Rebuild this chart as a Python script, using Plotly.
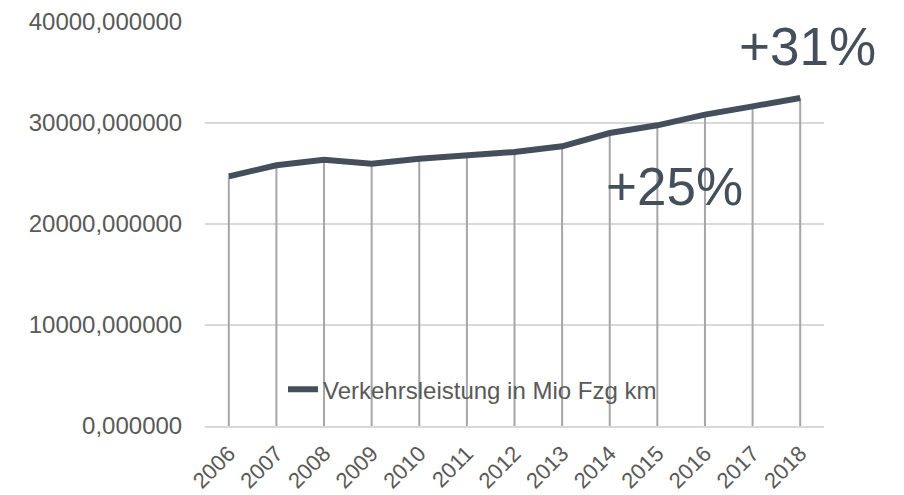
import plotly.graph_objects as go

years = ["2006", "2007", "2008", "2009", "2010", "2011", "2012", "2013",
         "2014", "2015", "2016", "2017", "2018"]
verkehrsleistung = [24720, 25810, 26370, 25970, 26470, 26800, 27130, 27690,
                    29010, 29770, 30830, 31650, 32480]
y_ticks = [0, 10000, 20000, 30000, 40000]
y_tick_labels = ["0,000000", "10000,000000", "20000,000000", "30000,000000", "40000,000000"]
series_name = "Verkehrsleistung in Mio Fzg km"
annotations_text = ["+31%", "+25%"]

FONT = "Liberation Sans, Arial, sans-serif"
TEXT = "#595959"
LINE = "#454F5B"

fig = go.Figure()
# drop lines from each point down to the axis
fig.add_trace(go.Scatter(x=years, y=verkehrsleistung, mode="markers",
                         marker=dict(size=1, opacity=0),
                         error_y=dict(type="data", symmetric=False,
                                      array=[0] * len(verkehrsleistung),
                                      arrayminus=verkehrsleistung,
                                      color="#A6A6A6", thickness=2, width=0),
                         showlegend=False, hoverinfo="skip"))
fig.add_trace(go.Scatter(x=years, y=verkehrsleistung, mode="lines",
                         name=series_name,
                         line=dict(color=LINE, width=6)))

fig.add_annotation(x=0.973, xref="paper", xanchor="center", y=37570, yref="y",
                   yanchor="middle", text=annotations_text[0], showarrow=False,
                   font=dict(family=FONT, size=53, color=LINE))
fig.add_annotation(x=0.7585, xref="paper", xanchor="center", y=23700, yref="y",
                   yanchor="middle", text=annotations_text[1], showarrow=False,
                   font=dict(family=FONT, size=53, color=LINE))

fig.update_layout(
    width=896, height=487,
    margin=dict(l=197, r=80, t=14, b=69),
    paper_bgcolor="white", plot_bgcolor="white",
    font=dict(family=FONT, color=TEXT, size=24),
    showlegend=True,
    legend=dict(x=0.126, y=0.09, xanchor="left", yanchor="middle",
                bgcolor="rgba(0,0,0,0)", font=dict(size=24, color=TEXT)),
    xaxis=dict(type="category", range=[-0.5, 12.5], showgrid=False,
               showline=True, linecolor="#D9D9D9", linewidth=2,
               ticks="outside", ticklen=4, tickcolor="rgba(0,0,0,0)",
               tickangle=-45, tickfont=dict(size=22, color=TEXT), automargin=False),
    yaxis=dict(range=[0, 40000], tickvals=y_ticks, ticktext=y_tick_labels,
               showgrid=True, gridcolor="#D9D9D9", gridwidth=2, zeroline=False,
               showline=False, ticks="outside", ticklen=17, tickcolor="rgba(0,0,0,0)",
               tickfont=dict(size=24, color=TEXT), automargin=False),
)

fig.write_html("out.html")
